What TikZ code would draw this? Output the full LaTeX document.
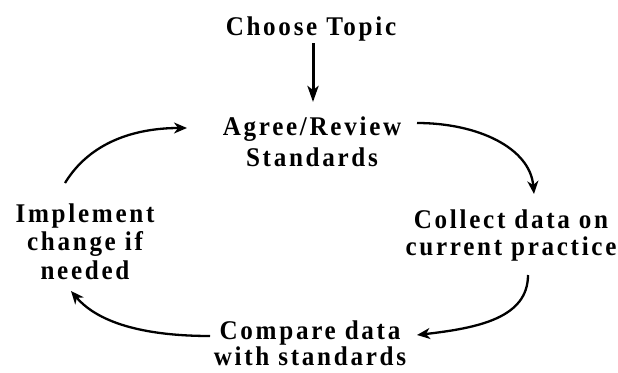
\documentclass[tikz,border=0pt]{standalone}
\usepackage{fontspec}
\newfontfamily\labfont{Liberation Serif}[LetterSpace=10,FakeStretch=0.93]
\usetikzlibrary{arrows.meta}
\newcommand{\mylines}[2]{\fontsize{27}{#1}\selectfont\begin{tabular}[t]{@{}c@{}}#2\end{tabular}}
\tikzset{
  lab/.style={anchor=base, inner sep=0pt, font=\labfont\bfseries\fontsize{27}{30}\selectfont},
  arr/.style={line width=2.3pt, -{Stealth[length=13pt,width=11pt,inset=4pt]}},
  varr/.style={line width=3pt, -{Stealth[length=16pt,width=11pt,inset=4pt]}}
}
\begin{document}
\begin{tikzpicture}[x=1pt,y=-1pt]
\useasboundingbox (0,0) rectangle (618,372);
\node[lab] (choose) at (311,35) {Choose Topic};
\node[lab] (agree) at (312,135) {\mylines{31}{Agree/Review\\Standards}};
\node[lab] (impl) at (85,222) {\mylines{28.5}{Implement\\change if\ \\needed}};
\node[lab] (collect) at (511,228) {\mylines{27}{Collect data on\ \\current practice}};
\node[lab] (compare) at (310,339) {\mylines{26}{Compare data\\with standards}};
% connector end points
\coordinate (v1) at (313,43);
\coordinate (v2) at (313,102);
\coordinate (a1) at (65,183);
\coordinate (a2) at (187,128);
\coordinate (b1) at (417,123);
\coordinate (b2) at (534,194);
\coordinate (c1) at (528,275);
\coordinate (c2) at (417,335);
\coordinate (d1) at (210,336);
\coordinate (d2) at (71,291);
\draw[varr] (v1) -- (v2);
\draw[arr] (a1) .. controls (90,142) and (135,128) .. (a2);
\draw[arr] (b1) .. controls (478,123) and (530,148) .. (b2);
\draw[arr] (c1) .. controls (528,318) and (478,328) .. (c2);
\draw[arr] (d1) .. controls (150,336) and (100,325) .. (d2);
\end{tikzpicture}
\end{document}
